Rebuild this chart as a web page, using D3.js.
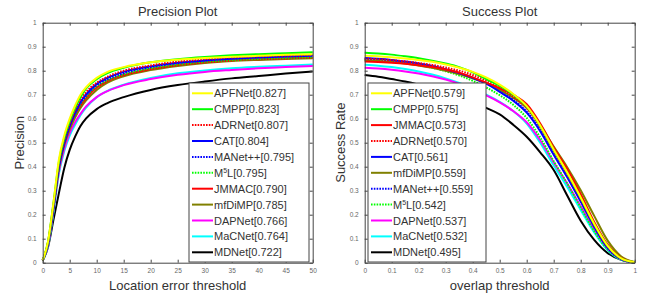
<!DOCTYPE html>
<html lang="en">
<head>
<meta charset="UTF-8">
<title>Precision and Success Plots</title>
<style>
  body { margin: 0; background: #fff; }
  svg { display: block; font-family: Arial, "Liberation Sans", sans-serif; }
</style>
</head>
<body>
<div id="chart"></div>
<script src="https://cdn.jsdelivr.net/npm/d3@7"></script>
<script>

// ---- data ----
const precThresholds = [0, 1, 2, 3, 4, 5, 6, 7, 8, 10, 12, 15, 20, 25, 30, 35, 40, 45, 50];

const precAPFNet = [0.01, 0.09, 0.25, 0.43, 0.53, 0.60, 0.655, 0.70, 0.73, 0.77, 0.795, 0.815, 0.835, 0.846, 0.853, 0.858, 0.862, 0.866, 0.869];
const precCMPP   = [0.01, 0.09, 0.25, 0.42, 0.52, 0.59, 0.645, 0.69, 0.725, 0.765, 0.79, 0.812, 0.835, 0.848, 0.857, 0.864, 0.869, 0.873, 0.877];
const precADRNet = [0.01, 0.085, 0.24, 0.41, 0.51, 0.58, 0.635, 0.68, 0.71, 0.75, 0.775, 0.80, 0.822, 0.838, 0.848, 0.855, 0.860, 0.863, 0.866];
const precCAT    = [0.01, 0.08, 0.23, 0.40, 0.50, 0.57, 0.625, 0.67, 0.70, 0.745, 0.77, 0.795, 0.818, 0.833, 0.843, 0.85, 0.855, 0.859, 0.862];
const precMANet  = [0.01, 0.08, 0.23, 0.40, 0.50, 0.57, 0.62, 0.665, 0.695, 0.74, 0.765, 0.79, 0.815, 0.832, 0.843, 0.851, 0.857, 0.861, 0.865];
const precM5L    = [0.01, 0.08, 0.23, 0.40, 0.50, 0.565, 0.615, 0.66, 0.69, 0.735, 0.76, 0.785, 0.81, 0.826, 0.837, 0.844, 0.849, 0.853, 0.856];
const precJMMAC  = [0.01, 0.085, 0.24, 0.40, 0.50, 0.565, 0.615, 0.655, 0.685, 0.73, 0.757, 0.782, 0.807, 0.824, 0.835, 0.843, 0.848, 0.852, 0.855];
const precMfDiMP = [0.01, 0.08, 0.23, 0.39, 0.49, 0.555, 0.605, 0.645, 0.675, 0.72, 0.75, 0.777, 0.803, 0.82, 0.832, 0.84, 0.845, 0.849, 0.852];
const precDAPNet = [0.01, 0.075, 0.22, 0.38, 0.475, 0.54, 0.585, 0.62, 0.65, 0.69, 0.715, 0.74, 0.765, 0.783, 0.795, 0.803, 0.81, 0.815, 0.82];
const precMaCNet = [0.01, 0.07, 0.21, 0.37, 0.465, 0.53, 0.575, 0.615, 0.645, 0.69, 0.716, 0.742, 0.77, 0.789, 0.801, 0.81, 0.816, 0.821, 0.826];
const precMDNet  = [0.01, 0.067, 0.18, 0.29, 0.395, 0.47, 0.525, 0.57, 0.60, 0.64, 0.665, 0.69, 0.72, 0.74, 0.755, 0.768, 0.778, 0.788, 0.797];

const succThresholds = [0, 0.05, 0.1, 0.15, 0.2, 0.25, 0.3, 0.35, 0.4, 0.45, 0.5, 0.55, 0.6, 0.65, 0.7, 0.75, 0.8, 0.85, 0.9, 0.95, 1];

const succAPFNet = [0.862, 0.86, 0.856, 0.851, 0.845, 0.837, 0.826, 0.812, 0.795, 0.772, 0.742, 0.703, 0.652, 0.572, 0.472, 0.376, 0.272, 0.162, 0.07, 0.018, 0.002];
const succCMPP   = [0.875, 0.872, 0.867, 0.86, 0.852, 0.842, 0.83, 0.815, 0.793, 0.765, 0.737, 0.70, 0.65, 0.57, 0.47, 0.375, 0.27, 0.16, 0.07, 0.018, 0.002];
const succJMMAC  = [0.838, 0.836, 0.833, 0.829, 0.823, 0.815, 0.805, 0.792, 0.772, 0.75, 0.727, 0.70, 0.66, 0.58, 0.48, 0.39, 0.285, 0.17, 0.075, 0.02, 0.002];
const succADRNet = [0.85, 0.848, 0.844, 0.839, 0.832, 0.824, 0.813, 0.8, 0.782, 0.758, 0.728, 0.692, 0.644, 0.565, 0.466, 0.37, 0.267, 0.158, 0.068, 0.017, 0.002];
const succCAT    = [0.853, 0.85, 0.845, 0.838, 0.83, 0.82, 0.806, 0.79, 0.77, 0.746, 0.712, 0.675, 0.625, 0.548, 0.45, 0.356, 0.255, 0.15, 0.062, 0.015, 0.001];
const succMfDiMP = [0.842, 0.84, 0.836, 0.83, 0.822, 0.812, 0.8, 0.786, 0.768, 0.747, 0.72, 0.688, 0.645, 0.574, 0.484, 0.398, 0.302, 0.195, 0.092, 0.026, 0.003];
const succMANet  = [0.848, 0.846, 0.842, 0.836, 0.828, 0.818, 0.805, 0.79, 0.771, 0.747, 0.716, 0.679, 0.63, 0.554, 0.456, 0.36, 0.259, 0.152, 0.063, 0.015, 0.001];
const succM5L    = [0.845, 0.843, 0.838, 0.832, 0.823, 0.812, 0.798, 0.78, 0.758, 0.73, 0.698, 0.658, 0.603, 0.522, 0.423, 0.33, 0.23, 0.132, 0.055, 0.013, 0.001];
const succDAPNet = [0.812, 0.809, 0.804, 0.797, 0.788, 0.777, 0.763, 0.745, 0.722, 0.697, 0.668, 0.632, 0.585, 0.51, 0.418, 0.33, 0.235, 0.138, 0.058, 0.014, 0.001];
const succMaCNet = [0.825, 0.821, 0.815, 0.807, 0.797, 0.784, 0.768, 0.749, 0.726, 0.7, 0.67, 0.632, 0.58, 0.5, 0.405, 0.315, 0.22, 0.126, 0.052, 0.012, 0.001];
const succMDNet  = [0.782, 0.775, 0.765, 0.755, 0.742, 0.727, 0.71, 0.69, 0.67, 0.645, 0.618, 0.575, 0.525, 0.46, 0.386, 0.28, 0.175, 0.095, 0.04, 0.012, 0.0];

const precNames  = ["APFNet", "CMPP", "ADRNet", "CAT", "MANet++", "M5L", "JMMAC", "mfDiMP", "DAPNet", "MaCNet", "MDNet"];
const precScores = ["0.827", "0.823", "0.807", "0.804", "0.795", "0.795", "0.790", "0.785", "0.766", "0.764", "0.722"];
const precValues = [precAPFNet, precCMPP, precADRNet, precCAT, precMANet, precM5L, precJMMAC, precMfDiMP, precDAPNet, precMaCNet, precMDNet];

const succNames  = ["APFNet", "CMPP", "JMMAC", "ADRNet", "CAT", "mfDiMP", "MANet++", "M5L", "DAPNet", "MaCNet", "MDNet"];
const succScores = ["0.579", "0.575", "0.573", "0.570", "0.561", "0.559", "0.559", "0.542", "0.537", "0.532", "0.495"];
const succValues = [succAPFNet, succCMPP, succJMMAC, succADRNet, succCAT, succMfDiMP, succMANet, succM5L, succDAPNet, succMaCNet, succMDNet];

// line style of each tracker
const styles = {
  "APFNet":  {color: "#ffff00", dash: null},
  "CMPP":    {color: "#00ff00", dash: null},
  "ADRNet":  {color: "#ff0000", dash: "1.6,1.2"},
  "CAT":     {color: "#0000ff", dash: null},
  "MANet++": {color: "#0000ff", dash: "1.6,1.2"},
  "M5L":     {color: "#00ff00", dash: "1.6,1.2"},
  "JMMAC":   {color: "#ff0000", dash: null},
  "mfDiMP":  {color: "#808000", dash: null},
  "DAPNet":  {color: "#ff00ff", dash: null},
  "MaCNet":  {color: "#00ffff", dash: null},
  "MDNet":   {color: "#000000", dash: null}
};

const W = 646, H = 294;
const svg = d3.select("#chart").append("svg")
  .attr("width", W).attr("height", H);

function drawPanel(opt) {
  const x = d3.scaleLinear().domain(opt.xDomain).range([opt.left, opt.right]);
  const y = d3.scaleLinear().domain([0, 1]).range([262.7, 22.7]);
  const g = svg.append("g");

  // curves, worst drawn first so the best sit on top
  const line = d3.line()
    .x((d, i) => x(opt.xs[i]))
    .y(d => y(d))
    .curve(d3.curveMonotoneX);

  for (let k = opt.names.length - 1; k >= 0; k--) {
    const s = styles[opt.names[k]];
    g.append("path")
      .attr("d", line(opt.values[k]))
      .attr("fill", "none")
      .attr("stroke", s.color)
      .attr("stroke-width", 2)
      .attr("stroke-dasharray", s.dash);
  }

  // axes with inward ticks on all four sides
  const xb = g.append("g").attr("transform", `translate(0,${y(0)})`)
    .call(d3.axisBottom(x).tickValues(opt.xTicks).tickSizeInner(-3).tickSizeOuter(0).tickPadding(6).tickFormat(d3.format("~g")));
  const xt = g.append("g").attr("transform", `translate(0,${y(1)})`)
    .call(d3.axisTop(x).tickValues(opt.xTicks).tickSizeInner(-3).tickSizeOuter(0).tickFormat(""));
  const yl = g.append("g").attr("transform", `translate(${x(opt.xDomain[0])},0)`)
    .call(d3.axisLeft(y).ticks(10).tickSizeInner(-3).tickSizeOuter(0).tickPadding(6).tickFormat(d3.format("~g")));
  const yr = g.append("g").attr("transform", `translate(${x(opt.xDomain[1])},0)`)
    .call(d3.axisRight(y).ticks(10).tickSizeInner(-3).tickSizeOuter(0).tickFormat(""));

  [xb, xt, yl, yr].forEach(a => {
    a.selectAll(".domain").attr("stroke", "#444").attr("stroke-width", 1);
    a.selectAll(".tick line").attr("stroke", "#444");
    a.selectAll("text").attr("fill", "#666").attr("font-size", 6.5).attr("font-family", "Arial, sans-serif");
  });

  // title and axis labels
  g.append("text")
    .attr("x", (opt.left + opt.right) / 2).attr("y", 16)
    .attr("text-anchor", "middle").attr("font-size", 13).attr("fill", "#333")
    .text(opt.title);
  g.append("text")
    .attr("x", (opt.left + opt.right) / 2).attr("y", 290)
    .attr("text-anchor", "middle").attr("font-size", 13).attr("fill", "#333")
    .text(opt.xLabel);
  g.append("text")
    .attr("transform", `translate(${opt.yLabelX},${y(0.5)}) rotate(-90)`)
    .attr("text-anchor", "middle").attr("font-size", 13).attr("fill", "#333")
    .text(opt.yLabel);

  // legend box
  const lg = g.append("g");
  lg.append("rect")
    .attr("x", opt.legX).attr("y", 83)
    .attr("width", opt.legW).attr("height", 179)
    .attr("fill", "#fff").attr("stroke", "#444").attr("stroke-width", 1);

  opt.names.forEach((name, i) => {
    const s = styles[name];
    const cy = 93.3 + i * 15.9;
    lg.append("line")
      .attr("x1", opt.legX + 3).attr("x2", opt.legX + 24)
      .attr("y1", cy).attr("y2", cy)
      .attr("stroke", s.color).attr("stroke-width", 2)
      .attr("stroke-dasharray", s.dash);
    const t = lg.append("text")
      .attr("x", opt.legX + 25).attr("y", cy + 4)
      .attr("font-size", 11).attr("fill", "#333");
    if (name === "M5L") {
      t.append("tspan").text("M");
      t.append("tspan").attr("font-size", 7).attr("dy", -4).text("5");
      t.append("tspan").attr("dy", 4).text("L[" + opt.scores[i] + "]");
    } else {
      t.text(name + "[" + opt.scores[i] + "]");
    }
  });
}

drawPanel({
  left: 42.7, right: 312.7,
  xDomain: [0, 50], xs: precThresholds,
  xTicks: d3.range(0, 51, 5),
  names: precNames, scores: precScores, values: precValues,
  title: "Precision Plot", xLabel: "Location error threshold", yLabel: "Precision",
  yLabelX: 24, legX: 189, legW: 120
});

drawPanel({
  left: 364.7, right: 634.7,
  xDomain: [0, 1], xs: succThresholds,
  xTicks: d3.range(0, 11).map(d => d / 10),
  names: succNames, scores: succScores, values: succValues,
  title: "Success Plot", xLabel: "overlap threshold", yLabel: "Success Rate",
  yLabelX: 345, legX: 368, legW: 118
});

</script>
</body>
</html>
